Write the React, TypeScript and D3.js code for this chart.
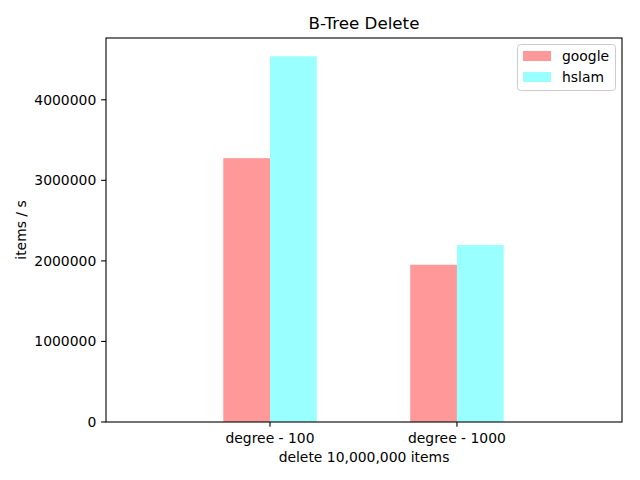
import React from "react";
import * as d3 from "d3";

const categories = ["degree - 100", "degree - 1000"];
const seriesNames = ["google", "hslam"];
const googleValues = [3275000, 1952000];
const hslamValues = [4540000, 2196000];
const yTicks = [0, 1000000, 2000000, 3000000, 4000000];
const colors = ["#ff9999", "#99ffff"];

const W = 640, H = 480;
const L = 106, R = 622, T = 38, B = 422;
const FONT = "DejaVu Sans, sans-serif";

export default function App() {
  const series = [googleValues, hslamValues];
  const maxV = d3.max(hslamValues.concat(googleValues)) as number;
  const y = d3.scaleLinear().domain([0, maxV * 1.05]).range([B, T]);
  const x = d3.scaleLinear().domain([-0.8775, 1.883]).range([L, R]);
  const bw = 0.25;
  const tl = 4.86;
  return (
    <svg width={W} height={H} style={{ position: "absolute", left: 0, top: 0, background: "#fff" }} fontFamily={FONT}>
      <rect x={0} y={0} width={W} height={H} fill="#fff" />
      {categories.map((c, i) =>
        series.map((vals, s) => {
          const x0 = x(i - bw + s * bw);
          const x1 = x(i + s * bw);
          return (
            <rect key={c + s} x={x0} y={y(vals[i])} width={x1 - x0} height={B - y(vals[i])} fill={colors[s]} />
          );
        })
      )}
      <rect x={L} y={T} width={R - L} height={B - T} fill="none" stroke="#000" strokeWidth={1.1} />
      {yTicks.map((t) => (
        <g key={t}>
          <line x1={L - tl} x2={L} y1={y(t)} y2={y(t)} stroke="#000" strokeWidth={1.1} />
          <text x={L - tl - 4.9} y={y(t)} dy="0.36em" textAnchor="end" fontSize={13.9}>{t}</text>
        </g>
      ))}
      {categories.map((c, i) => (
        <g key={c}>
          <line x1={x(i)} x2={x(i)} y1={B} y2={B + tl} stroke="#000" strokeWidth={1.1} />
          <text x={x(i)} y={B + tl + 4.9} dy="0.78em" textAnchor="middle" fontSize={13.9}>{c}</text>
        </g>
      ))}
      <text x={(L + R) / 2} y={462} textAnchor="middle" fontSize={13.9}>delete 10,000,000 items</text>
      <text transform={`translate(26,${(T + B) / 2}) rotate(-90)`} textAnchor="middle" fontSize={13.9}>items / s</text>
      <text x={(L + R) / 2} y={29} textAnchor="middle" fontSize={16.7}>B-Tree Delete</text>
      <g>
        <rect x={517.5} y={44.5} width={98} height={46} rx={3} fill="#fff" fillOpacity={0.8} stroke="#ccc" strokeWidth={1} />
        {seriesNames.map((n, s) => (
          <g key={n}>
            <rect x={523} y={51 + s * 21} width={28} height={10} fill={colors[s]} />
            <text x={562} y={56 + s * 21} dy="0.36em" fontSize={13.9}>{n}</text>
          </g>
        ))}
      </g>
    </svg>
  );
}
